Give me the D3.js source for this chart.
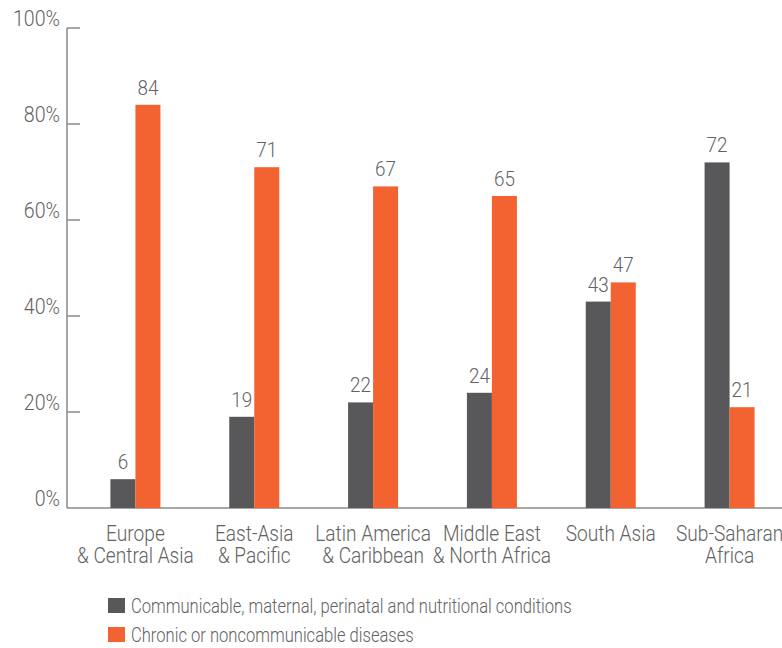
<!DOCTYPE html>
<html>
<head>
<meta charset="utf-8">
<script src="https://cdn.jsdelivr.net/npm/d3@7"></script>
<style>
  html, body { margin: 0; padding: 0; background: #fff; }
  svg { display: block; }
  text { font-family: Roboto, "Noto Sans", sans-serif; font-weight: 300; fill: #626262; }
</style>
</head>
<body>
<script>
const regions = [
  ["Europe", "& Central Asia"],
  ["East-Asia", "& Pacific"],
  ["Latin America", "& Caribbean"],
  ["Middle East", "& North Africa"],
  ["South Asia"],
  ["Sub-Saharan", "Africa"]
];
const communicable = [6, 19, 22, 24, 43, 72];
const chronic = [84, 71, 67, 65, 47, 21];
const yTicks = [0, 20, 40, 60, 80, 100];
const seriesNames = [
  "Communicable, maternal, perinatal and nutritional conditions",
  "Chronic or noncommunicable diseases"
];
const colors = ["#58585a", "#f26331"];

const W = 782, H = 648;
const svg = d3.select("body").append("svg").attr("width", W).attr("height", H);

const keys = regions.map(r => r.join(" "));
const x = d3.scaleBand().domain(keys).range([76, 789]).padding(0);
const y = d3.scaleLinear().domain([0, 100]).range([508, 28]);
const barW = 25;
const axisX = 67;

// Text drawn with a horizontal condensing factor (the reference uses a condensed face)
function label(parent, tx, ty, lines, size, sx, anchor, lineH) {
  const g = parent.append("g").attr("transform", `translate(${tx},${ty}) scale(${sx},1)`);
  const t = g.append("text").attr("font-size", size).attr("text-anchor", anchor || "start");
  [].concat(lines).forEach((ln, j) => {
    t.append("tspan").attr("x", 0).attr("y", j * (lineH || 0)).text(ln);
  });
  return t;
}

// Y axis
svg.append("line").attr("x1", axisX).attr("x2", axisX)
  .attr("y1", y(100)).attr("y2", y(0))
  .attr("stroke", "#8a8a8a").attr("stroke-width", 1.5);
svg.selectAll(".ytick").data(yTicks.filter(d => d > 0)).join("line")
  .attr("x1", axisX).attr("x2", axisX + 13)
  .attr("y1", d => y(d)).attr("y2", d => y(d))
  .attr("stroke", "#8a8a8a").attr("stroke-width", 1.5);
const yl = svg.append("g");
yTicks.forEach(d => label(yl, 60, y(d) - 2, d + "%", 22, 0.89, "end").attr("fill", "#737373"));

// X axis
svg.append("line").attr("x1", axisX).attr("x2", W)
  .attr("y1", y(0)).attr("y2", y(0))
  .attr("stroke", "#8a8a8a").attr("stroke-width", 1.5);

const series = [communicable, chronic];
series.forEach((vals, s) => {
  const g = svg.append("g");
  g.selectAll("rect").data(vals).join("rect")
    .attr("x", (d, i) => x(keys[i]) + x.bandwidth() / 2 - barW + s * barW)
    .attr("y", d => y(d))
    .attr("width", barW)
    .attr("height", d => y(0) - y(d))
    .attr("fill", colors[s]);
  vals.forEach((d, i) => {
    label(g, x(keys[i]) + x.bandwidth() / 2 - barW / 2 + s * barW, y(d) - 10, String(d), 21, 0.9, "middle");
  });
});

// Category labels
const cg = svg.append("g");
regions.forEach((lines, i) => {
  label(cg, x(keys[i]) + x.bandwidth() / 2, 541, lines, 22, 0.87, "middle", 22);
});

// Legend
const lg = svg.append("g");
seriesNames.forEach((nm, i) => {
  lg.append("rect").attr("x", 108).attr("y", 598 + i * 29)
    .attr("width", 17).attr("height", 15).attr("fill", colors[i]);
  label(lg, 131, 613 + i * 29, nm, 21, 0.79, "start");
});
</script>
</body>
</html>
